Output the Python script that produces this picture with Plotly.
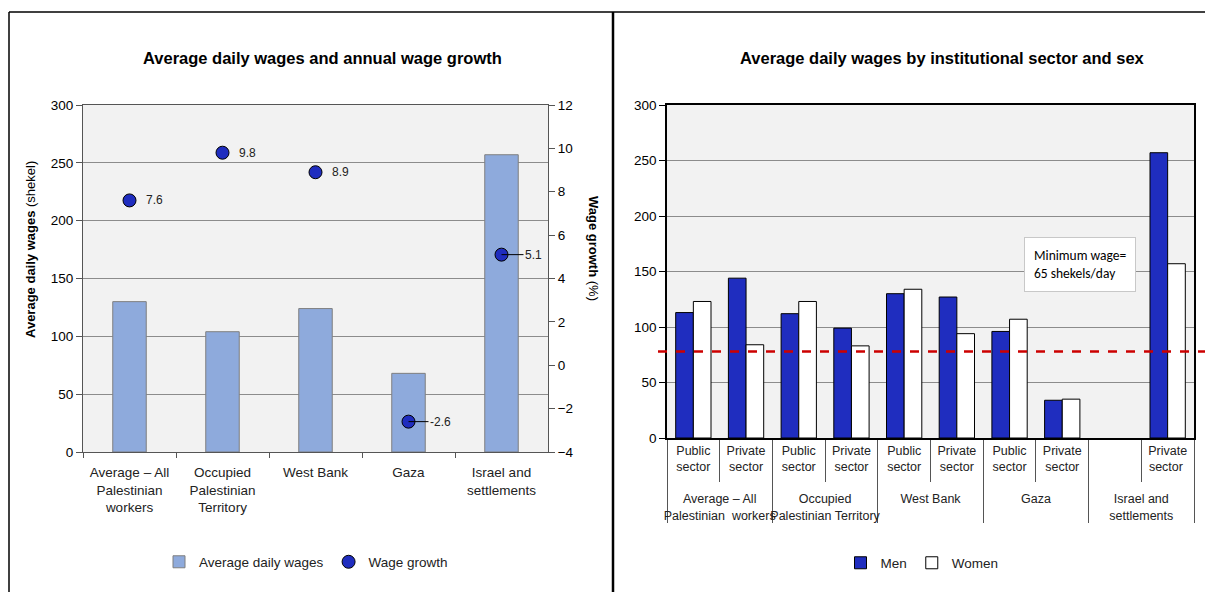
import plotly.graph_objects as go

W, H = 1205, 592
FONT = "Liberation Sans, Arial, sans-serif"

# ---- Left chart data ----
regions = ["Average – All<br>Palestinian<br>workers", "Occupied<br>Palestinian<br>Territory",
           "West Bank", "Gaza", "Israel and<br>settlements"]
avg_wages = [130, 104, 124, 68, 257]
wage_growth = [7.6, 9.8, 8.9, -2.6, 5.1]

# ---- Right chart data ----
groups = ["Average – All<br>Palestinian  workers", "Average – All<br>Palestinian  workers",
          "Occupied<br>Palestinian Territory", "Occupied<br>Palestinian Territory",
          "West Bank", "West Bank", "Gaza", "Gaza",
          "Israel and<br>settlements", "Israel and<br>settlements"]
sectors = ["Public<br>sector<br> ", "Private<br>sector<br> ", "Public<br>sector<br> ",
           "Private<br>sector<br> ", "Public<br>sector<br> ", "Private<br>sector<br> ",
           "Public<br>sector<br> ", "Private<br>sector<br> ",
           " <br> <br> ", "Private<br>sector <br> "]
men = [113, 144, 112, 99, 130, 127, 96, 34, None, 257]
women = [123, 84, 123, 83, 134, 94, 107, 35, None, 157]
min_wage_line = 78

def px(x):
    return x / W

def py(y):
    return 1 - y / H

def plotted(vals):
    return [0 if v is None else v for v in vals]

def edge(vals):
    return [0 if v is None else 1 for v in vals]

fig = go.Figure()

fig.add_trace(go.Bar(x=regions, y=avg_wages, name="Average daily wages",
                     marker=dict(color="#8EAADC", line=dict(color="#7F7F7F", width=1)),
                     width=0.36, xaxis="x", yaxis="y", legend="legend"))
fig.add_trace(go.Scatter(x=regions, y=wage_growth, name="Wage growth", mode="markers",
                         marker=dict(color="#1F2DBF", size=13, line=dict(color="#000", width=1)),
                         xaxis="x", yaxis="y2", legend="legend"))

fig.add_trace(go.Bar(x=[groups, sectors], y=plotted(men), name="Men",
                     marker=dict(color="#1F2DBF", line=dict(color="#000", width=edge(men))),
                     xaxis="x3", yaxis="y3", legend="legend2"))
fig.add_trace(go.Bar(x=[groups, sectors], y=plotted(women), name="Women",
                     marker=dict(color="#FFFFFF", line=dict(color="#000", width=edge(women))),
                     xaxis="x3", yaxis="y3", legend="legend2"))

ann = []
for i, (r, g) in enumerate(zip(regions, wage_growth)):
    leader = i >= 3
    if leader:
        ann.append(dict(x=r, y=g, xref="x", yref="y2", text=f"{g}", showarrow=True,
                        arrowhead=0, arrowwidth=1, arrowcolor="#000", ax=32, ay=0,
                        font=dict(size=12, color="#222", family=FONT), standoff=0))
    else:
        ann.append(dict(x=r, y=g, xref="x", yref="y2", text=f"{g}", showarrow=False,
                        xanchor="left", xshift=14, font=dict(size=12, color="#222", family=FONT)))

ann += [
    dict(x=px(322), y=py(58), xref="paper", yref="paper", showarrow=False,
         xanchor="center", yanchor="middle",
         text="<b>Average daily wages and annual wage growth</b>",
         font=dict(size=16.5, color="#000", family=FONT)),
    dict(x=px(942), y=py(58), xref="paper", yref="paper", showarrow=False,
         xanchor="center", yanchor="middle",
         text="<b>Average daily wages by institutional sector and sex</b>",
         font=dict(size=16.5, color="#000", family=FONT)),
    dict(x=px(30), y=py(250), xref="paper", yref="paper", showarrow=False, textangle=-90,
         xanchor="center", yanchor="middle",
         text="<b>Average daily wages</b> (shekel)", font=dict(size=13, color="#000", family=FONT)),
    dict(x=px(593), y=py(248), xref="paper", yref="paper", showarrow=False, textangle=90,
         xanchor="center", yanchor="middle",
         text="<b>Wage growth</b> (%)", font=dict(size=13, color="#000", family=FONT)),
    dict(x=px(1024), y=py(264), xref="paper", yref="paper", showarrow=False, xanchor="left",
         yanchor="middle", align="left", text="Minimum wage=<br>65 shekels/day",
         font=dict(size=13.5, color="#000", family="Carlito, Calibri, Liberation Sans, sans-serif"),
         bgcolor="#FFFFFF", bordercolor="#C8C8C8", borderwidth=1, borderpad=9),
]

shapes = [
    dict(type="line", xref="paper", yref="paper", x0=px(9), x1=1, y0=py(12), y1=py(12),
         line=dict(color="#000", width=1.5)),
    dict(type="line", xref="paper", yref="paper", x0=px(9), x1=px(9), y0=py(12), y1=0,
         line=dict(color="#000", width=1.5)),
    dict(type="line", xref="paper", yref="paper", x0=px(613), x1=px(613), y0=py(12), y1=0,
         line=dict(color="#000", width=2.5)),
    dict(type="line", xref="paper", yref="y3", x0=px(658), x1=1, y0=min_wage_line, y1=min_wage_line,
         line=dict(color="#CC0000", width=2.5, dash="dash")),
]

axis_font = dict(size=13.5, color="#000", family=FONT)
fig.update_layout(
    width=W, height=H, margin=dict(l=0, r=0, t=0, b=0, autoexpand=False),
    paper_bgcolor="#FFFFFF", plot_bgcolor="#F2F2F2",
    barmode="group", bargap=0.33, bargroupgap=0,
    font=dict(family=FONT, color="#000", size=13),
    xaxis=dict(domain=[px(83), px(548)], anchor="y", type="category", tickangle=0,
               showline=True, linecolor="#555", mirror=True, ticks="outside", tickson="boundaries",
               ticklen=5, tickcolor="#555", ticklabelstandoff=8,
               tickfont=dict(size=13.5, color="#222", family=FONT)),
    yaxis=dict(domain=[py(452), py(105)], anchor="x", range=[0, 300], dtick=50,
               showline=True, linecolor="#555", mirror=True, ticks="outside", ticklen=6,
               tickcolor="#555", gridcolor="#8C8C8C", gridwidth=1, zeroline=False,
               tickfont=axis_font),
    yaxis2=dict(overlaying="y", side="right", anchor="x", range=[-4, 12], dtick=2,
                showgrid=False, zeroline=False, showline=True, linecolor="#555",
                ticks="outside", ticklen=6, tickcolor="#555", tickfont=axis_font),
    xaxis3=dict(domain=[px(667), px(1194)], anchor="y3", type="multicategory", tickangle=0,
                showline=True, linecolor="#000", linewidth=1.5, mirror=True, ticks="outside",
                tickson="boundaries", ticklen=42, tickcolor="#555", showdividers=True,
                dividercolor="#555", dividerwidth=1,
                tickfont=dict(size=12.5, color="#222", family=FONT)),
    yaxis3=dict(domain=[py(438), py(105)], anchor="x3", range=[0, 300], dtick=50,
                showline=True, linecolor="#000", linewidth=1.5, mirror=True, ticks="outside",
                ticklen=6, tickcolor="#000", gridcolor="#8C8C8C", gridwidth=1, zeroline=False,
                tickfont=axis_font),
    legend=dict(orientation="h", x=px(306), y=py(562), xanchor="center", yanchor="middle",
                itemwidth=30, tracegroupgap=0,
                font=dict(size=13.5, color="#222", family=FONT), bgcolor="rgba(0,0,0,0)"),
    legend2=dict(orientation="h", x=px(922), y=py(563), xanchor="center", yanchor="middle",
                 itemwidth=30,
                 font=dict(size=13.5, color="#222", family=FONT), bgcolor="rgba(0,0,0,0)"),
    annotations=ann, shapes=shapes,
)

fig.write_html("out.html")
